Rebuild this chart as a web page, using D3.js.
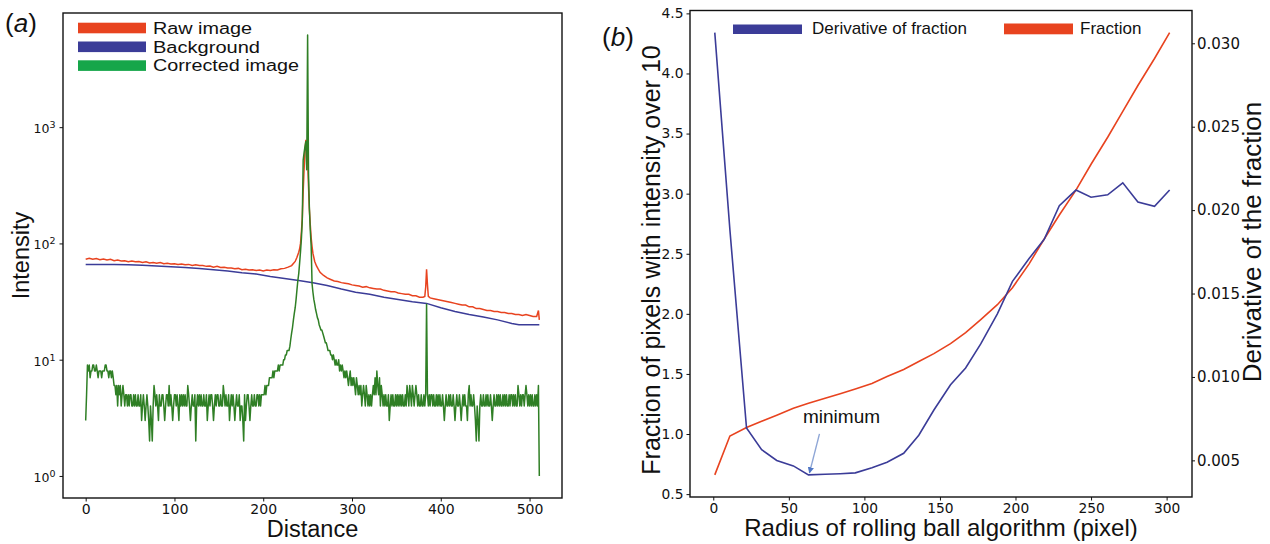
<!DOCTYPE html>
<html>
<head>
<meta charset="utf-8">
<script src="https://cdn.jsdelivr.net/npm/d3@7"></script>
<style>
  body { margin: 0; background: #fff; }
  svg { display: block; }
  text { font-family: "Liberation Sans", Arial, sans-serif; fill: #111; }
  .tick text { font-family: "DejaVu Sans", sans-serif; }
</style>
</head>
<body>
<svg id="fig" width="1270" height="544"></svg>
<script>
// ---------- Panel (a): line profile across the image ----------
// Corrected image intensity, one value per pixel (0..511)
const corrected = [
  3,5,9,8,9,7,8,8,9,9,8,8,9,8,7,8,8,8,7,8,8,8,9,9,8,8,7,8,8,7,8,7,
  6,6,5,6,4,6,5,6,4,5,6,5,4,5,5,4,5,4,5,5,4,4,5,4,5,4,4,5,4,4,5,3,
  4,5,4,3,4,5,4,3,2,4,3,2,4,6,5,4,5,4,3,5,4,4,5,5,4,3,4,5,5,4,6,4,
  5,4,3,4,5,5,4,5,4,3,5,4,5,4,5,4,5,4,4,6,5,4,3,4,5,4,4,5,2,4,5,4,
  5,4,5,4,4,5,4,4,5,3,4,5,4,5,5,4,3,4,5,4,5,5,4,4,5,4,4,6,5,4,5,4,
  4,5,3,4,5,4,5,4,3,4,5,4,4,5,3,4,4,3,2,5,3,4,5,5,4,3,4,5,4,4,5,4,
  4,5,5,4,5,4,5,5,5,5,6,5,6,6,6,7,7,7,7,8,7,8,8,8,8,9,8,9,9,9,9,10,
  10,11,11,12,12,12,13,15,17,19,22,25,28,33,40,48,55,68,85,110,160,520,600,680,750,430,6200,400,200,130,95,45,
  38,33,30,27,25,23,22,20,19,18,18,17,16,15,14,14,13,12,12,12,11,11,10,11,10,9,10,9,9,10,8,9,
  8,9,8,7,8,7,8,7,6,7,8,6,7,6,7,6,5,7,6,5,6,5,6,4,5,6,5,4,6,5,4,5,
  4,5,4,5,6,5,7,5,8,6,5,7,4,6,5,4,5,4,5,4,4,5,3,4,5,4,5,4,4,5,4,5,
  4,5,4,5,4,5,4,4,5,4,6,5,4,6,5,4,6,5,4,5,6,5,4,5,4,4,5,4,4,5,4,5,
  30,5,4,5,4,5,5,4,5,4,4,5,4,5,4,5,4,4,5,4,3,4,5,4,4,5,4,5,4,4,5,4,
  3,4,5,4,4,5,4,3,4,5,4,5,4,4,3,5,6,4,5,4,4,5,4,3,2,4,3,2,4,5,4,4,
  5,4,4,5,4,5,4,4,5,4,3,4,5,4,4,5,4,5,4,5,4,4,5,4,5,4,5,4,4,5,4,5,
  5,4,5,4,5,4,4,6,5,4,5,4,5,5,4,5,6,5,4,5,4,5,4,5,4,4,5,4,5,4,6,1
];
const correctedDistance = d3.range(corrected.length);

// Raw image intensity, sampled along the profile
const rawDistance = [
  0,4,8,12,16,20,24,28,32,36,40,44,48,52,56,60,64,68,72,76,80,84,88,92,96,100,104,108,112,116,120,124,
  128,132,136,140,144,148,152,156,160,164,168,172,176,180,184,188,192,196,200,204,208,212,216,220,224,228,232,236,
  238,240,241,242,243,244,245,246,247,248,249,250,251,252,253,254,255,256,258,260,262,264,268,272,276,280,284,288,
  292,296,300,304,308,312,316,320,324,328,332,336,340,344,348,352,356,360,364,368,372,376,380,382,383,384,385,386,
  388,392,396,400,404,408,412,416,420,424,428,432,436,440,444,448,452,456,460,464,468,472,476,480,484,488,492,496,
  500,504,508,510,511
];
const rawIntensity = [
  73,74.5,73,74,72.5,73.5,72,73,71,72,70.5,71,69.5,70.5,69.5,70,68.5,69.5,68,68.5,67.5,68.5,67,67.5,66.5,67,66,66.5,65.5,66,64.5,65.5,
  64.5,64.5,63.5,64,62.5,63.5,62,62.5,61.5,61.5,60.5,61,59.5,60,59,59.5,58.5,59,58,59,58.5,59.5,59,60.5,61,62.5,64.5,70,
  76,84,90,100,125,165,280,430,610,778,690,540,310,195,145,112,94,82,70,64,60,56.5,53,50.5,49,47.5,47,46,
  45.5,45,44,43.5,43,42,42.5,41.5,41,40.5,40.5,39.5,39,38.5,38.5,37.5,37,36.5,36.5,35.5,35.5,34.5,34.5,35,42,60,44,35,
  34,33.5,33,32.5,32,31.5,31,30.5,30,29.5,29.5,28.5,28.5,27.5,27.5,27,26.5,26.5,26,26,25.5,25.5,25,25,24.5,24.5,24,24.5,
  24,23.5,23.5,26.5,22
];

// Rolling-ball background, sampled along the profile
const bgDistance = [0,16,32,48,64,80,96,112,128,144,160,176,192,208,224,240,256,272,288,304,320,336,352,368,384,400,416,432,448,464,480,488,496,511];
const bgIntensity = [66,66,66,65.5,65,64,63,62,61,59.5,58,56,54.5,52,50,48,46,43.5,40.5,38,36.5,34.5,33,31.5,30.5,28,26,24.5,23.3,22,20.5,20,20,20];

const profileXTicks = [0, 100, 200, 300, 400, 500];
const intensityTicks = [1, 10, 100, 1000];
const profileLegend = ["Raw image", "Background", "Corrected image"];

// ---------- Panel (b): rolling-ball radius scan ----------
const radius = [1,11,22,32,42,53,63,74,84,94,105,115,126,136,146,157,167,177,188,198,209,219,229,240,250,261,271,281,292,302];
const derivative = [4.34,2.70,1.05,0.87,0.78,0.735,0.66,0.665,0.67,0.677,0.72,0.765,0.84,0.99,1.20,1.41,1.55,1.75,2.00,2.27,2.46,2.62,2.90,3.03,2.97,2.99,3.09,2.93,2.895,3.03];
const fraction = [0.00413,0.00646,0.00697,0.00734,0.00770,0.00812,0.00842,0.00872,0.00899,0.00928,0.00961,0.01003,0.01045,0.01093,0.01140,0.01200,0.01266,0.01344,0.01433,0.01535,0.01678,0.01827,0.01971,0.02120,0.02275,0.02437,0.02592,0.02747,0.02909,0.03064];
const radiusTicks = [0, 50, 100, 150, 200, 250, 300];
const leftTicksB = [0.5, 1.0, 1.5, 2.0, 2.5, 3.0, 3.5, 4.0, 4.5];
const rightTicksB = [0.005, 0.010, 0.015, 0.020, 0.025, 0.030];
const minimumRadius = 63;
const minimumValue = 0.66;

// ---------- colours ----------
const RED = "#e8431f", BLUE = "#3b3c98", GREEN_LINE = "#2f7f25", GREEN_KEY = "#16a64a";

const svg = d3.select("#fig");
const pad = ([a, b]) => [a - (b - a) * 0.05, b + (b - a) * 0.05];

// ===================== Panel (a) =====================
const A = { l: 63, r: 562, t: 13, b: 498 };
const xA = d3.scaleLinear().domain(pad([0, 511])).range([A.l, A.r]);
const allA = corrected.concat(rawIntensity, bgIntensity);
const logExt = pad([Math.log10(d3.min(allA)), Math.log10(d3.max(allA))]);
const yA = d3.scaleLog().domain([10 ** logExt[0], 10 ** logExt[1]]).range([A.b, A.t]);

svg.append("clipPath").attr("id", "clipA")
  .append("rect").attr("x", A.l).attr("y", A.t).attr("width", A.r - A.l).attr("height", A.b - A.t);

const lineA = d3.line().x(d => xA(d[0])).y(d => yA(d[1]));
const gA = svg.append("g").attr("clip-path", "url(#clipA)");
gA.append("path").datum(d3.zip(bgDistance, bgIntensity))
  .attr("d", lineA).attr("fill", "none").attr("stroke", BLUE).attr("stroke-width", 1.5);
gA.append("path").datum(d3.zip(rawDistance, rawIntensity))
  .attr("d", lineA).attr("fill", "none").attr("stroke", RED).attr("stroke-width", 1.5);
gA.append("path").datum(d3.zip(correctedDistance, corrected))
  .attr("d", lineA).attr("fill", "none").attr("stroke", GREEN_LINE).attr("stroke-width", 1.5)
  .attr("stroke-linejoin", "round");

// axes
const axA_x = svg.append("g").attr("transform", `translate(0,${A.b})`)
  .call(d3.axisBottom(xA).tickValues(profileXTicks).tickSize(3.5).tickPadding(3).tickFormat(d3.format("d")));
const axA_y = svg.append("g").attr("transform", `translate(${A.l},0)`)
  .call(d3.axisLeft(yA).tickValues(intensityTicks).tickSize(3.5).tickPadding(4));
[axA_x, axA_y].forEach(g => { g.select(".domain").remove(); g.selectAll(".tick line").attr("stroke", "#111"); });
axA_x.selectAll(".tick text").attr("font-size", 14).attr("fill", "#111");
axA_y.selectAll(".tick text").attr("fill", "#111").text(null).each(function (d) {
  const t = d3.select(this);
  t.append("tspan").attr("font-size", 12.5).text("10");
  t.append("tspan").attr("font-size", 9.5).attr("dy", -5).text(Math.round(Math.log10(d)));
}).attr("dy", "0.55em");

svg.append("rect").attr("x", A.l).attr("y", A.t).attr("width", A.r - A.l).attr("height", A.b - A.t)
  .attr("fill", "none").attr("stroke", "#111").attr("stroke-width", 1.4);

svg.append("text").attr("x", (A.l + A.r) / 2).attr("y", 537).attr("text-anchor", "middle")
  .attr("font-size", 23.5).text("Distance");
svg.append("text").attr("transform", `translate(29,${(A.t + A.b) / 2}) rotate(-90)`)
  .attr("text-anchor", "middle").attr("font-size", 23.5).text("Intensity");

// legend: compact rows, labels stretched to their set widths
const keyColorsA = [RED, BLUE, GREEN_KEY];
const keyWidthsA = [99, 107, 146];
profileLegend.forEach((name, i) => {
  const yTop = 22.7 + i * 18.8;
  svg.append("rect").attr("x", 78).attr("y", yTop).attr("width", 68).attr("height", 10.6).attr("fill", keyColorsA[i]);
  svg.append("text").attr("x", 153).attr("y", yTop + 11).attr("font-size", 16)
    .attr("textLength", keyWidthsA[i]).attr("lengthAdjust", "spacingAndGlyphs").text(name);
});

// panel tag
const tagA = svg.append("text").attr("x", 5).attr("y", 32).attr("font-size", 26);
tagA.append("tspan").text("(");
tagA.append("tspan").attr("font-style", "italic").text("a");
tagA.append("tspan").text(")");

// ===================== Panel (b) =====================
const B = { l: 690, r: 1192, t: 10.5, b: 497 };
const xB = d3.scaleLinear().domain([-15.4, 316.8]).range([B.l, B.r]);
const yBL = d3.scaleLinear().domain(pad(d3.extent(derivative))).range([B.b, B.t]);
const yBR = d3.scaleLinear().domain(pad(d3.extent(fraction))).range([B.b, B.t]);

svg.append("path").datum(d3.zip(radius, fraction))
  .attr("d", d3.line().x(d => xB(d[0])).y(d => yBR(d[1])))
  .attr("fill", "none").attr("stroke", RED).attr("stroke-width", 1.6);
svg.append("path").datum(d3.zip(radius, derivative))
  .attr("d", d3.line().x(d => xB(d[0])).y(d => yBL(d[1])))
  .attr("fill", "none").attr("stroke", BLUE).attr("stroke-width", 1.6);

const axB_x = svg.append("g").attr("transform", `translate(0,${B.b})`)
  .call(d3.axisBottom(xB).tickValues(radiusTicks).tickSize(3.5).tickPadding(3).tickFormat(d3.format("d")));
const axB_l = svg.append("g").attr("transform", `translate(${B.l},0)`)
  .call(d3.axisLeft(yBL).tickValues(leftTicksB).tickSize(3.5).tickPadding(3).tickFormat(d3.format(".1f")));
const axB_r = svg.append("g").attr("transform", `translate(${B.r},0)`)
  .call(d3.axisRight(yBR).tickValues(rightTicksB).tickSize(3).tickPadding(2).tickFormat(d3.format(".3f")));
[axB_x, axB_l, axB_r].forEach(g => { g.select(".domain").remove(); g.selectAll(".tick line").attr("stroke", "#111"); g.selectAll(".tick text").attr("fill", "#111"); });
axB_x.selectAll(".tick text").attr("font-size", 13.8);
axB_l.selectAll(".tick text").attr("font-size", 13.8);
axB_r.selectAll(".tick text").attr("font-size", 15);

svg.append("rect").attr("x", B.l).attr("y", B.t).attr("width", B.r - B.l).attr("height", B.b - B.t)
  .attr("fill", "none").attr("stroke", "#111").attr("stroke-width", 1.4);

svg.append("text").attr("x", (B.l + B.r) / 2).attr("y", 536).attr("text-anchor", "middle")
  .attr("font-size", 24).text("Radius of rolling ball algorithm (pixel)");
svg.append("text").attr("transform", `translate(660,260) rotate(-90)`)
  .attr("text-anchor", "middle").attr("font-size", 25).text("Fraction of pixels with intensity over 10");
svg.append("text").attr("transform", `translate(1261,242) rotate(-90)`)
  .attr("text-anchor", "middle").attr("font-size", 26).text("Derivative of the fraction");

// legends (one per y axis)
svg.append("rect").attr("x", 733).attr("y", 24.5).attr("width", 69).attr("height", 9.5).attr("fill", BLUE);
svg.append("text").attr("x", 812).attr("y", 33.5).attr("font-size", 17).text("Derivative of fraction");
svg.append("rect").attr("x", 1004).attr("y", 23.5).attr("width", 69).attr("height", 10.8).attr("fill", RED);
svg.append("text").attr("x", 1080).attr("y", 33.5).attr("font-size", 17).text("Fraction");

// minimum annotation
const tipX = xB(minimumRadius) + 1, tipY = yBL(minimumValue) - 2;
svg.append("defs").append("marker").attr("id", "head").attr("viewBox", "0 0 10 10")
  .attr("refX", 9).attr("refY", 5).attr("markerWidth", 4.5).attr("markerHeight", 4.5)
  .attr("markerUnits", "strokeWidth").attr("orient", "auto")
  .append("path").attr("d", "M0,0 L10,5 L0,10 Z").attr("fill", "#4f76c5");
svg.append("line").attr("x1", tipX + 10).attr("y1", tipY - 39).attr("x2", tipX).attr("y2", tipY)
  .attr("stroke", "#8ea6d6").attr("stroke-width", 1.4).attr("marker-end", "url(#head)");
svg.append("text").attr("x", 803).attr("y", 423).attr("font-size", 19).text("minimum");

const tagB = svg.append("text").attr("x", 602).attr("y", 46).attr("font-size", 26);
tagB.append("tspan").text("(");
tagB.append("tspan").attr("font-style", "italic").text("b");
tagB.append("tspan").text(")");
</script>
</body>
</html>
